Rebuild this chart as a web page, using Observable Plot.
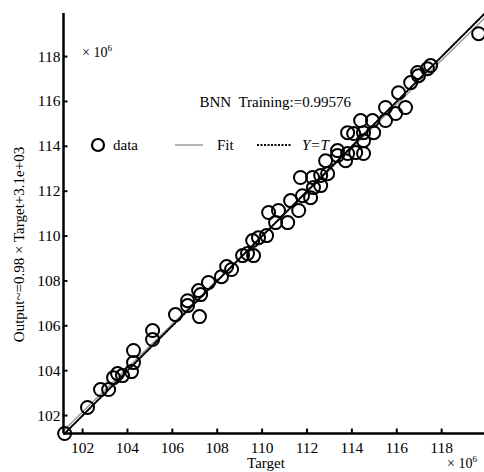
<!DOCTYPE html>
<html><head><meta charset="utf-8">
<script src="https://cdn.jsdelivr.net/npm/d3@7"></script>
<script src="https://cdn.jsdelivr.net/npm/@observablehq/plot@0.6"></script>
<style>body{margin:0;background:#fff}#wrap{width:484px;height:472px}</style>
</head><body><div id="wrap"></div>
<script>
// values in units of 10^6
const target = [101.20,102.22,102.80,103.16,103.38,103.56,103.78,104.18,104.27,104.27,105.12,105.12,106.14,106.68,106.68,107.17,107.21,107.26,107.61,108.19,108.42,108.64,109.13,109.35,109.62,109.58,109.84,110.20,110.29,110.60,110.73,111.14,111.27,111.63,111.80,112.16,112.29,112.61,111.71,112.25,112.61,112.92,112.83,113.36,113.72,113.81,114.17,113.36,113.81,114.08,114.52,114.52,114.52,114.39,114.92,114.97,115.50,115.50,115.95,116.39,116.08,116.62,116.97,117.37,117.51,116.93,119.65];
const output = [101.20,102.36,103.16,103.16,103.69,103.87,103.78,103.96,104.90,104.36,105.79,105.39,106.50,107.12,106.90,107.57,106.41,107.39,107.93,108.19,108.64,108.51,109.13,109.22,109.13,109.80,109.93,110.02,111.05,110.60,111.14,110.60,111.58,111.14,111.80,111.71,112.16,112.25,112.61,112.61,112.70,112.78,113.36,113.59,113.36,113.68,113.72,113.81,114.61,114.57,114.61,114.25,113.68,115.15,115.15,114.61,115.73,115.15,115.46,115.73,116.39,116.84,117.15,117.46,117.60,117.29,119.02];
const fitX = [101.20, 119.92];
const fitY = [101.38, 119.72];
const refX = [101.20, 119.92];
const refY = [101.20, 119.92];
const xTicks = [102,104,106,108,110,112,114,116,118];
const yTicks = [102,104,106,108,110,112,114,116,118];
const rValue = "0.99576";

const xDomain = [101.15, 119.91];
const yDomain = [101.2, 119.92];
const points = target.map((t,i)=>({t, o: output[i]}));
const fitData = fitX.map((x,i)=>({x, y: fitY[i]}));
const refData = refX.map((x,i)=>({x, y: refY[i]}));
const font = "Liberation Serif, Times New Roman, serif";

const chart = Plot.plot({
  width: 484, height: 472,
  marginLeft: 63, marginRight: 0, marginTop: 13, marginBottom: 39,
  style: {fontFamily: font, fontSize: "15.5px", background: "white", color: "black", overflow: "visible"},
  x: {domain: xDomain},
  y: {domain: yDomain},
  marks: [
    Plot.line(fitData, {x: "x", y: "y", stroke: "#9a9a9a", strokeWidth: 1.5}),
    Plot.line(refData, {x: "x", y: "y", stroke: "black", strokeWidth: 2, strokeDasharray: "2,1.5"}),
    Plot.dot(points, {x: "t", y: "o", r: 6.5, stroke: "black", strokeWidth: 2, fill: "none"}),
    Plot.ruleY([yDomain[0]], {stroke: "black", strokeWidth: 2.5}),
    Plot.ruleX([xDomain[0]], {stroke: "black", strokeWidth: 2.5}),
    Plot.ruleX(xTicks, {x: d => d, y1: yDomain[0], y2: yDomain[0] + 0.2, stroke: "black", strokeWidth: 2}),
    Plot.ruleY(yTicks, {y: d => d, x1: xDomain[0], x2: xDomain[0] + 0.2, stroke: "black", strokeWidth: 2}),
    Plot.axisX({ticks: xTicks, tickSize: 0, tickPadding: 8, label: null, tickFormat: d => String(d), fontSize: 15.5}),
    Plot.axisY({ticks: yTicks, tickSize: 0, tickPadding: 3, label: null, tickFormat: d => String(d), fontSize: 15.5}),
    Plot.text(["Target"], {frameAnchor: "bottom", dx: -8, dy: 30, fontSize: 15, lineAnchor: "middle", textAnchor: "middle"}),
    Plot.text(["Output~=0.98 × Target+3.1e+03"], {frameAnchor: "left", dx: -44, dy: 21, rotate: -90, fontSize: 15, lineAnchor: "middle", textAnchor: "middle"}),
    Plot.text([`BNN  Training:=${rValue}`], {frameAnchor: "top-left", dx: 136, dy: 89, textAnchor: "start", lineAnchor: "middle", fontSize: 15})
  ]
});

const svg = d3.select(chart);
// ×10^6 multipliers
function mult(x, y) {
  const t = svg.append("text").attr("x", x).attr("y", y).attr("text-anchor", "start")
    .attr("font-family", font).attr("font-size", 14).attr("fill", "black");
  t.append("tspan").text("× 10");
  t.append("tspan").attr("font-size", 9).attr("dy", -6).text("6");
}
mult(82, 57);
mult(447, 468);

// legend
const lg = svg.append("g").attr("font-family", font).attr("font-size", 15).attr("fill", "black").attr("text-anchor", "start");
const ly = 145;
lg.append("circle").attr("cx", 98).attr("cy", ly).attr("r", 6).attr("fill", "none").attr("stroke", "black").attr("stroke-width", 2.2);
lg.append("text").attr("x", 113).attr("y", ly).attr("dy", "0.32em").text("data");
lg.append("line").attr("x1", 175).attr("x2", 203).attr("y1", ly).attr("y2", ly).attr("stroke", "#9a9a9a").attr("stroke-width", 1.5);
lg.append("text").attr("x", 217).attr("y", ly).attr("dy", "0.32em").text("Fit");
lg.append("line").attr("x1", 257).attr("x2", 292).attr("y1", ly).attr("y2", ly).attr("stroke", "black").attr("stroke-width", 2).attr("stroke-dasharray", "2,1.5");
lg.append("text").attr("x", 302).attr("y", ly).attr("dy", "0.32em").attr("font-style", "italic").text("Y=T");

document.getElementById("wrap").appendChild(chart);
</script>
</body></html>
